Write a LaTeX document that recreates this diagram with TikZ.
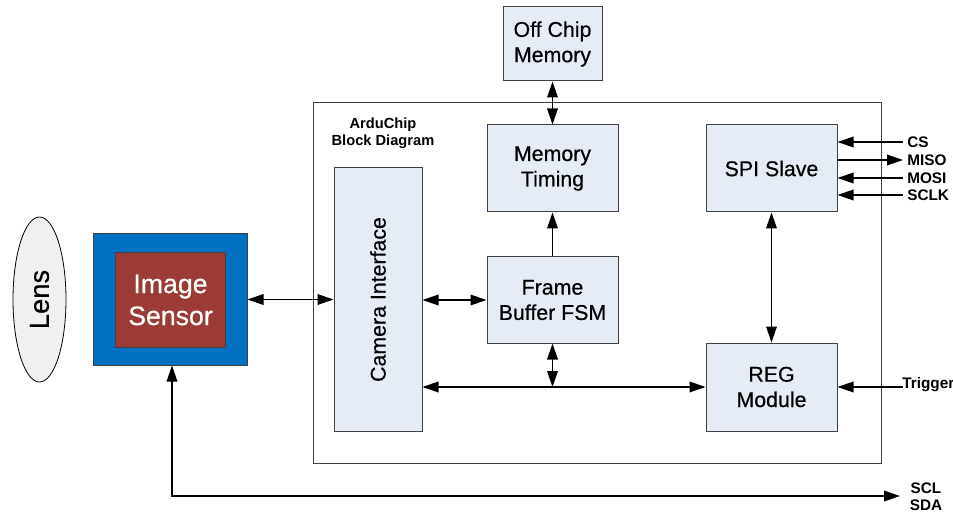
\documentclass[tikz,border=0pt]{standalone}
\usepackage{fontspec}
\setmainfont{Liberation Sans}
\newfontfamily\medfont{Liberation Sans}[FakeBold=0.5]
\usetikzlibrary{arrows.meta,shapes.geometric}
\definecolor{boxfill}{HTML}{E6ECF6}
\definecolor{boxline}{HTML}{404040}
\definecolor{sensorblue}{HTML}{0070C0}
\definecolor{sensorred}{HTML}{9C3B35}
\definecolor{lensfill}{HTML}{F0F0F0}
\tikzset{
  blk/.style={draw=boxline, line width=0.75pt, fill=boxfill, inner sep=0pt, align=center,
    font=\medfont\fontsize{16}{19}\selectfont},
  sig/.style={font=\bfseries\fontsize{11.5}{13}\selectfont, inner sep=0pt, anchor=west},
  conn/.style={line width=1pt, -{Triangle[length=12pt,width=8pt]}},
  conn2/.style={line width=1pt, {Triangle[length=12pt,width=8pt]}-{Triangle[length=12pt,width=8pt]}},
}
\begin{document}
\begin{tikzpicture}[x=0.75pt,y=-0.75pt]
\useasboundingbox (0,0) rectangle (953,513);
% outer chip frame
\node[draw=boxline, line width=0.75pt, minimum width=568*0.75pt, minimum height=360*0.75pt, inner sep=0pt] (chip) at (597,283) {};
\node[font=\bfseries\fontsize{11}{13}\selectfont, align=center, inner sep=0pt] (title) at (383,133) {ArduChip\\Block Diagram};
% lens
\node[ellipse, draw=black, line width=0.6pt, fill=lensfill, minimum width=53*0.75pt, minimum height=165*0.75pt, inner sep=0pt] (lens) at (39.5,299.5) {};
\node[rotate=90, font=\medfont\fontsize{20.5}{24}\selectfont, inner sep=0pt] (lenstext) at (lens.center) {Lens};
% sensor
\node[draw=boxline, line width=0.75pt, fill=sensorblue, minimum width=154*0.75pt, minimum height=131*0.75pt, inner sep=0pt] (blue) at (170,299.5) {};
\node[draw=boxline, line width=0.75pt, fill=sensorred, minimum width=110*0.75pt, minimum height=94*0.75pt, inner sep=0pt, text=white, align=center, font=\medfont\fontsize{20}{24}\selectfont] (sensor) at (170.5,300) {Image\\Sensor};
% blocks
\node[blk, minimum width=99*0.75pt, minimum height=74*0.75pt] (off) at (552.5,44) {Off Chip\\Memory};
\node[blk, minimum width=131*0.75pt, minimum height=87*0.75pt] (mt) at (552.5,168.5) {Memory\\Timing};
\node[blk, minimum width=131*0.75pt, minimum height=86*0.75pt] (fb) at (552.5,300) {Frame\\Buffer FSM};
\node[blk, minimum width=131*0.75pt, minimum height=87*0.75pt] (spi) at (771.5,168.5) {SPI Slave};
\node[blk, minimum width=131*0.75pt, minimum height=88*0.75pt] (reg) at (771.5,387) {REG\\Module};
\node[blk, minimum width=88*0.75pt, minimum height=263*0.75pt] (cam) at (378,299.5) {};
\node[rotate=90, font=\medfont\fontsize{16}{19}\selectfont, inner sep=0pt] (camtext) at (cam.center) {Camera Interface};
% signal endpoints
\coordinate (cs) at (903,142);
\coordinate (miso) at (903,160);
\coordinate (mosi) at (903,178);
\coordinate (sclk) at (903,195);
\coordinate (trig) at (903,387);
\coordinate (i2c) at (900,496);
\coordinate (i2cup) at (172,496);
\node[sig] (cslab) at (907,142) {CS};
\node[sig] (misolab) at (907,160) {MISO};
\node[sig] (mosilab) at (907,178) {MOSI};
\node[sig] (sclklab) at (907,195) {SCLK};
\node[sig] (triglab) at (902,385) {Trigger};
\node[font=\bfseries\fontsize{11.5}{13}\selectfont, inner sep=0pt] (scl) at (926,488) {SCL};
\node[font=\bfseries\fontsize{11.5}{13}\selectfont, inner sep=0pt] (sda) at (926,505) {SDA};
% connectors
\draw[conn2] (blue.east) -- (blue.east -| cam.west);
\draw[conn2] (cam.east |- fb.west) -- (fb.west);
\draw[conn2] (cam.east |- reg.west) -- (reg.west);
\draw[conn2] (fb.south) -- (fb.south |- reg.west);
\draw[conn] (fb.north) -- (mt.south);
\draw[conn2] (off.south) -- (mt.north);
\draw[conn2] (spi.south) -- (reg.north);
\draw[conn] (cs) -- (cs -| spi.east);
\draw[conn] (miso -| spi.east) -- (miso);
\draw[conn] (mosi) -- (mosi -| spi.east);
\draw[conn] (sclk) -- (sclk -| spi.east);
\draw[conn] (trig) -- (reg.east);
\draw[conn2] (i2cup |- blue.south) -- (i2cup) -- (i2c);
\end{tikzpicture}
\end{document}
